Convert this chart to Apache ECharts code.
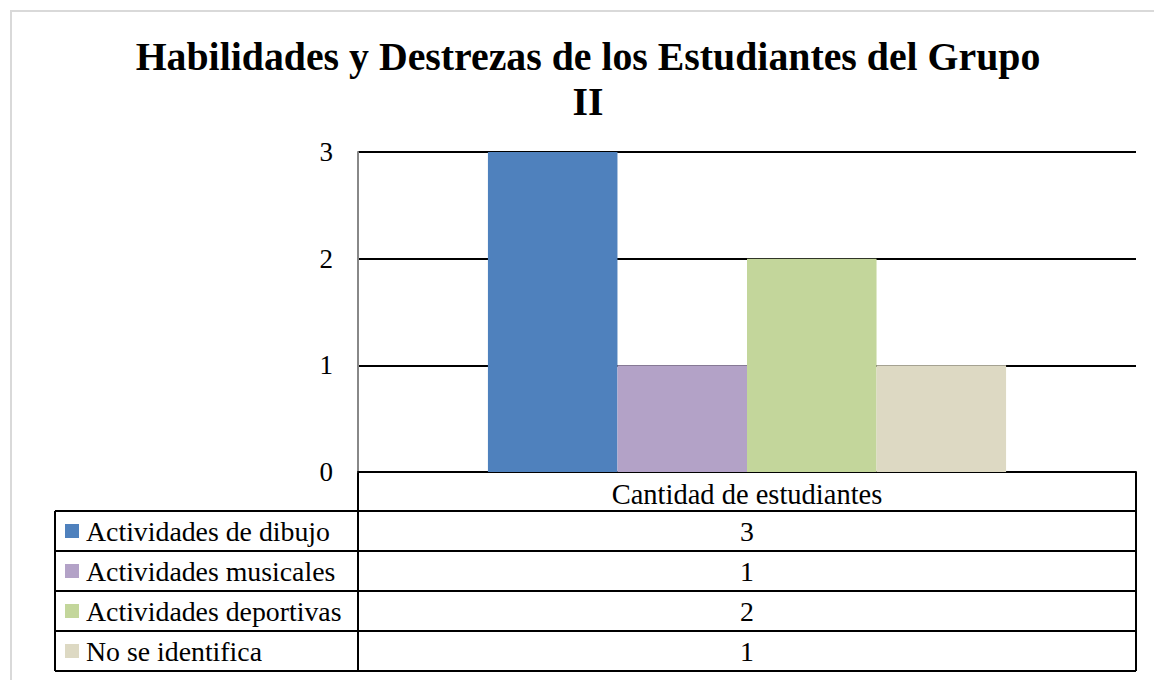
<!DOCTYPE html>
<html><head><meta charset="utf-8">
<script src="https://cdn.jsdelivr.net/npm/echarts@6/dist/echarts.min.js"></script>
<style>html,body{margin:0;padding:0;background:#fff}#c{width:1154px;height:680px}</style>
</head><body><div id="c"></div>
<script>
const titleText = 'Habilidades y Destrezas de los Estudiantes del Grupo\nII';
const categories = ['Cantidad de estudiantes'];
const seriesNames = ['Actividades de dibujo', 'Actividades musicales', 'Actividades deportivas', 'No se identifica'];
const seriesValues = [3, 1, 2, 1];
const seriesColors = ['#4F81BD', '#B3A2C7', '#C3D69B', '#DDD9C3'];
const yTickLabels = ['0', '1', '2', '3'];

const FONT = 'Liberation Serif';
const chart = echarts.init(document.getElementById('c'), null, {renderer: 'svg'});
const grid = {left: 358, right: 18, top: 152, bottom: 208};

chart.setOption({
  animation: false,
  backgroundColor: '#fff',
  title: {
    text: titleText, left: 583, top: 29, textAlign: 'center',
    textStyle: {fontFamily: FONT, fontWeight: 'bold', fontSize: 39.8, lineHeight: 45, color: '#000'}
  },
  grid: grid,
  xAxis: {
    type: 'category', data: categories,
    axisLine: {lineStyle: {color: '#000', width: 2}},
    axisTick: {show: false},
    axisLabel: {fontFamily: FONT, fontSize: 28.5, color: '#000', margin: 8}
  },
  yAxis: {
    type: 'value', min: 0, max: 3, interval: 1,
    axisLine: {show: true, lineStyle: {color: '#888', width: 2}},
    axisTick: {show: false},
    splitLine: {lineStyle: {color: '#000', width: 2}},
    axisLabel: {fontFamily: FONT, fontSize: 27, color: '#000', margin: 25, formatter: v => yTickLabels[v]}
  },
  series: seriesNames.map((n, i) => ({
    name: n, type: 'bar', data: [seriesValues[i]],
    barGap: '0%', barCategoryGap: '33.4%',
    itemStyle: {color: seriesColors[i]}
  }))
});

// Data table below the plot
const y0 = chart.convertToPixel({yAxisIndex: 0}, 0);
const xL = grid.left, xR = 1154 - grid.right;
const headerH = 39, rowH = 40, tableLeft = 55;
const lineStyle = {stroke: '#000', lineWidth: 2};
const els = [];
els.push({type: 'rect', shape: {x: 11, y: 11, width: 1170, height: 700}, style: {fill: 'none', stroke: '#d9d9d9', lineWidth: 2}, z: -10});
const tableBottom = y0 + headerH + rowH * seriesNames.length;
els.push({type: 'line', shape: {x1: xL, y1: y0, x2: xL, y2: tableBottom}, style: lineStyle});
els.push({type: 'line', shape: {x1: xR, y1: y0, x2: xR, y2: tableBottom}, style: lineStyle});
els.push({type: 'line', shape: {x1: tableLeft, y1: y0 + headerH, x2: tableLeft, y2: tableBottom}, style: lineStyle});
for (let r = 0; r <= seriesNames.length; r++) {
  const yy = y0 + headerH + rowH * r;
  els.push({type: 'line', shape: {x1: tableLeft, y1: yy, x2: xR, y2: yy}, style: lineStyle});
}
seriesNames.forEach((n, i) => {
  const cy = y0 + headerH + rowH * i + rowH / 2;
  els.push({type: 'rect', shape: {x: 65, y: cy - 7, width: 14, height: 14}, style: {fill: seriesColors[i]}});
  els.push({type: 'text', x: 86, y: cy, style: {text: n, fontFamily: FONT, fontSize: 27.8, fill: '#000', textAlign: 'left', textVerticalAlign: 'middle'}});
  els.push({type: 'text', x: (xL + xR) / 2, y: cy, style: {text: String(seriesValues[i]), fontFamily: FONT, fontSize: 27.8, fill: '#000', textAlign: 'center', textVerticalAlign: 'middle'}});
});
chart.setOption({graphic: {elements: els}});
</script>
</body></html>
